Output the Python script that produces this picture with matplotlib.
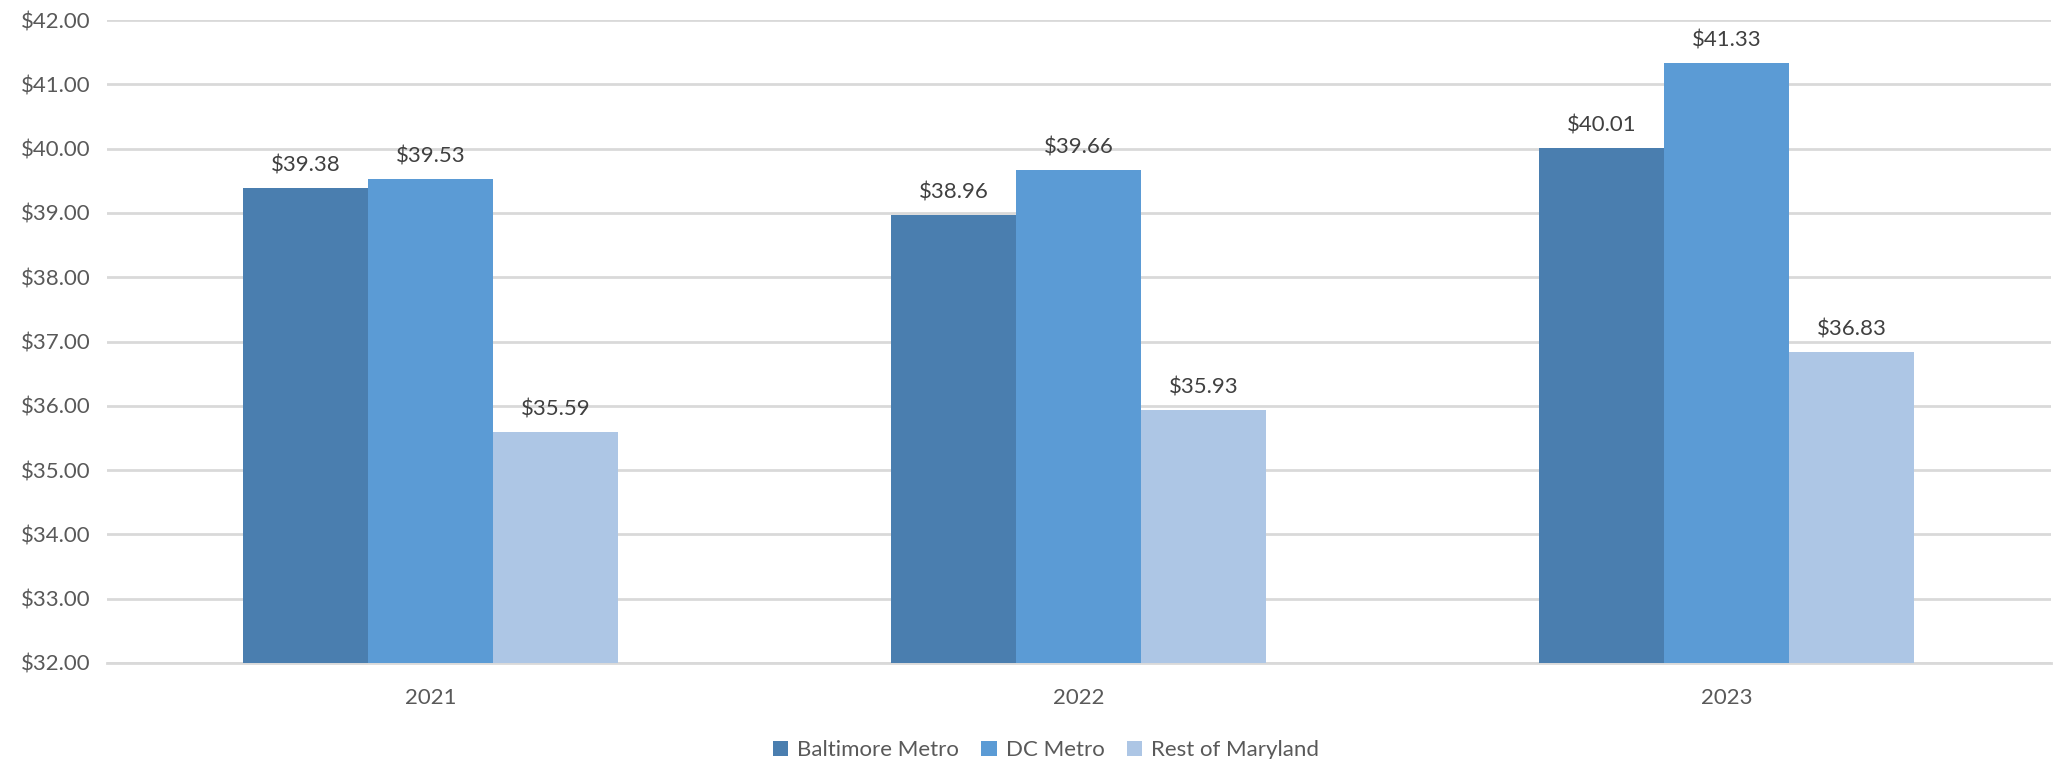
import matplotlib.pyplot as plt
import numpy as np

years = ["2021", "2022", "2023"]
series_names = ["Baltimore Metro", "DC Metro", "Rest of Maryland"]
baltimore = [39.38, 38.96, 40.01]
dc_metro = [39.53, 39.66, 41.33]
rest_md = [35.59, 35.93, 36.83]
colors = ["#4a7eaf", "#5b9bd5", "#adc6e5"]

plt.rcParams["font.family"] = ["Lato", "DejaVu Sans"]
text_color = "#595959"

fig = plt.figure(figsize=(20.55, 7.59), dpi=100)
ax = fig.add_axes([0.052, 0.1265, 0.946, 0.8471])

x = np.arange(len(years))
bar_w = 0.193
for i, (vals, name) in enumerate(zip([baltimore, dc_metro, rest_md], series_names)):
    pos = x + (i - 1) * bar_w
    ax.bar(pos, vals, width=bar_w, bottom=0, color=colors[i], label=name, zorder=3)
    # value labels above each bar
    for p, v in zip(pos, vals):
        ax.annotate(f"${v:.2f}", (p, v), xytext=(0, 9), textcoords="offset points",
                    ha="center", va="bottom", fontsize=16, color="#404040")

ax.set_ylim(32, 42)
ax.set_xlim(-0.5, 2.5)
ax.set_yticks(np.arange(32, 43, 1))
ax.set_yticklabels([f"${t:.2f}" for t in range(32, 43)])
ax.set_xticks(x)
ax.set_xticklabels(years)
ax.tick_params(axis="both", length=0, labelsize=16, labelcolor=text_color)
ax.tick_params(axis="y", pad=12)
ax.tick_params(axis="x", pad=18)
ax.grid(axis="y", color="#d9d9d9", linewidth=2, zorder=0)
for s in ["top", "right", "left"]:
    ax.spines[s].set_visible(False)
ax.spines["bottom"].set_color("#d9d9d9")
ax.spines["bottom"].set_linewidth(2)

fig.legend(loc="lower center", bbox_to_anchor=(0.509, -0.028), ncol=3, frameon=False,
           fontsize=16, handlelength=0.7, handleheight=0.7, columnspacing=1.0,
           handletextpad=0.4, labelcolor=text_color)

fig.savefig("out.png", dpi=100)
